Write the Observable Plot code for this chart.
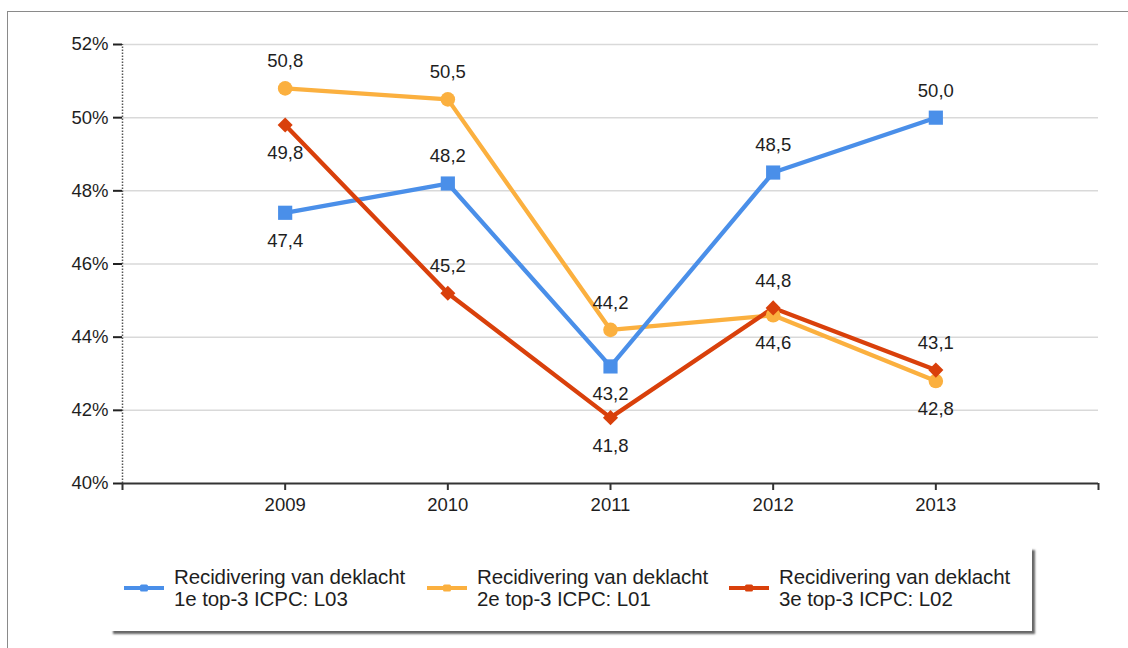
<!DOCTYPE html>
<html>
<head>
<meta charset="utf-8">
<script src="https://cdn.jsdelivr.net/npm/d3@7"></script>
<script src="https://cdn.jsdelivr.net/npm/@observablehq/plot@0.6"></script>
<style>
  html, body { margin: 0; padding: 0; background: #fff; }
  body { width: 1128px; height: 648px; position: relative; overflow: hidden; font-family: "Liberation Sans", Arial, sans-serif; }
  #frame { position: absolute; left: 7px; top: 11px; right: -2px; bottom: -2px; border-top: 1.5px solid #8a8a8a; border-left: 1.5px solid #8a8a8a; }
  #chart { position: absolute; left: 0; top: 0; }
  #legend { position: absolute; left: 110px; top: 547px; width: 922px; height: 84px; background: #fff;
            box-shadow: 3px 3px 2px #666; }
  .item { position: absolute; display: flex; align-items: center; }
  .item svg { margin-right: 10px; }
  .item span { font-size: 20.5px; line-height: 22px; color: #1e1e1e; letter-spacing: -0.1px; }
</style>
</head>
<body>
<div id="frame"></div>
<div id="chart"></div>
<div id="legend"></div>
<script>
const years = [2009, 2010, 2011, 2012, 2013];
const seriesNames = [
  "Recidivering van deklacht\n1e top-3 ICPC: L03",
  "Recidivering van deklacht\n2e top-3 ICPC: L01",
  "Recidivering van deklacht\n3e top-3 ICPC: L02"
];
const valuesL03 = [47.4, 48.2, 43.2, 48.5, 50.0];
const valuesL01 = [50.8, 50.5, 44.2, 44.6, 42.8];
const valuesL02 = [49.8, 45.2, 41.8, 44.8, 43.1];
const labelSideL03 = ["below", "above", "below", "above", "above"];
const labelSideL01 = ["above", "above", "above", "below", "below"];
const labelSideL02 = ["below", "above", "below", "above", "above"];
const yTicks = [40, 42, 44, 46, 48, 50, 52];
const xTicks = [2008, 2009, 2010, 2011, 2012, 2013, 2014];

const colors = ["#4a8fe9", "#fbb03f", "#d9400b"];
const symbols = ["square", "circle", "diamond2"];
const radii = [8, 7.3, 6.8];

const series = [
  {name: seriesNames[0], values: valuesL03, sides: labelSideL03},
  {name: seriesNames[1], values: valuesL01, sides: labelSideL01},
  {name: seriesNames[2], values: valuesL02, sides: labelSideL02}
];
const rows = series.map((s, i) => years.map((yr, j) => ({
  year: yr, value: s.values[j], side: s.sides[j], idx: i
})));

const fmt = v => v.toFixed(1).replace(".", ",");
const drawOrder = [1, 0, 2];

const marks = [
  Plot.gridY(yTicks.filter(d => d > 40), {stroke: "#d9d9d9", strokeOpacity: 1, strokeWidth: 1.5}),
  Plot.ruleX([2008], {y1: 40, y2: 52, stroke: "#555", strokeDasharray: "1.5,1.5", strokeWidth: 1.5}),
  Plot.axisY({ticks: yTicks, tickFormat: d => d + "%", tickSize: 9, tickPadding: 5, label: null,
    fontSize: 18.5, stroke: "#222", strokeWidth: 2, fill: "#1e1e1e"}),
  Plot.axisX({ticks: xTicks, tickFormat: d => (d === 2008 || d === 2014) ? "" : String(d), label: null,
    tickSize: 7, tickPadding: 7, fontSize: 18.5, stroke: "#333", strokeWidth: 2, fill: "#1e1e1e"}),
  Plot.ruleY([40], {stroke: "#333", strokeWidth: 2})
];
for (const i of drawOrder) {
  marks.push(Plot.line(rows[i], {x: "year", y: "value", stroke: colors[i], strokeWidth: 4.3}));
}
for (const i of drawOrder) {
  marks.push(Plot.dot(rows[i], {x: "year", y: "value", symbol: symbols[i], r: radii[i], fill: colors[i], stroke: "none"}));
}
for (const i of drawOrder) {
  marks.push(Plot.text(rows[i].filter(d => d.side === "above"), {x: "year", y: "value", text: d => fmt(d.value), dy: -27, fontSize: 18.5, fill: "#1e1e1e"}));
  marks.push(Plot.text(rows[i].filter(d => d.side === "below"), {x: "year", y: "value", text: d => fmt(d.value), dy: 28, fontSize: 18.5, fill: "#1e1e1e"}));
}

const chart = Plot.plot({
  width: 1128,
  height: 520,
  marginTop: 44,
  marginBottom: 37,
  marginLeft: 122,
  marginRight: 30,
  style: {fontFamily: "'Liberation Sans', Arial, sans-serif", background: "transparent", overflow: "visible"},
  x: {domain: [2008, 2014], axis: null},
  y: {domain: [40, 52], axis: null},
  marks
});
document.getElementById("chart").appendChild(chart);

// legend
const legend = d3.select("#legend");
const offsets = [14, 317, 619];
series.forEach((s, i) => {
  const item = legend.append("div").attr("class", "item").style("left", offsets[i] + "px").style("top", "19px");
  const sw = item.append("svg").attr("width", 40).attr("height", 12);
  sw.append("line").attr("x1", 0).attr("x2", 40).attr("y1", 6).attr("y2", 6)
    .attr("stroke", colors[i]).attr("stroke-width", 4);
  sw.append("rect").attr("x", 16).attr("y", 2.5).attr("width", 8).attr("height", 7).attr("rx", 1.5)
    .attr("fill", colors[i]);
  item.append("span").html(s.name.replace("\n", "<br>"));
});
</script>
</body>
</html>
